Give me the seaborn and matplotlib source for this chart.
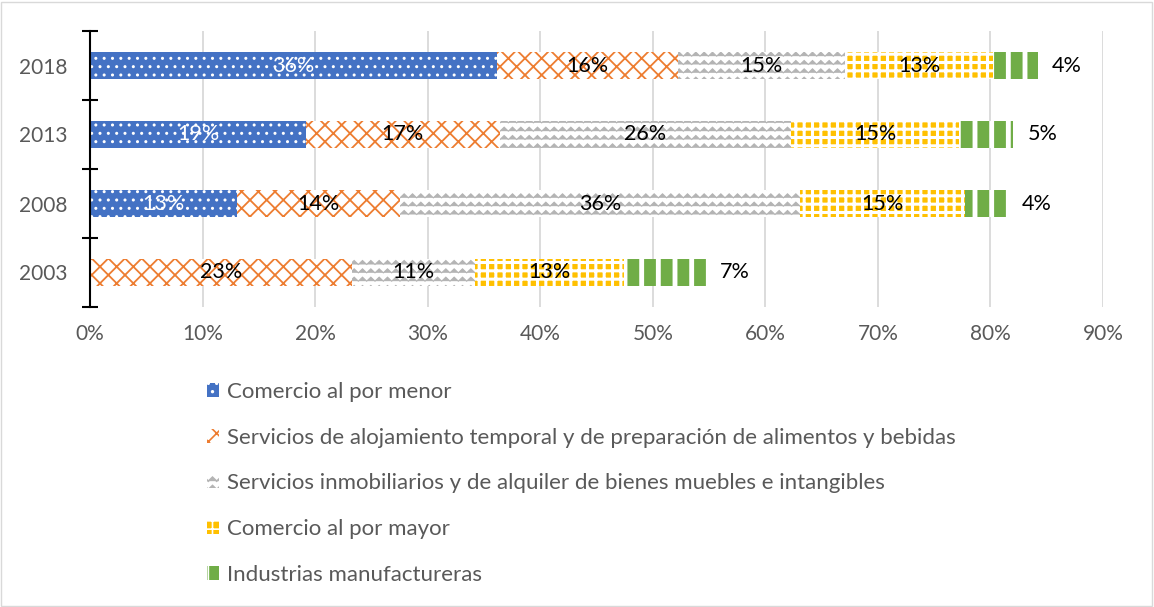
import matplotlib
matplotlib.use("Agg")
import matplotlib.pyplot as plt
import seaborn as sns
import numpy as np
import pandas as pd
from matplotlib.patches import Rectangle, Patch
from matplotlib import hatch as mhatch
from matplotlib.path import Path

years = ["2018", "2013", "2008", "2003"]
series = [
    "Comercio al por menor",
    "Servicios de alojamiento temporal y de preparación de alimentos y bebidas",
    "Servicios inmobiliarios y de alquiler de bienes muebles e intangibles",
    "Comercio al por mayor",
    "Industrias manufactureras",
]
menor = [36.2, 19.2, 13.1, 0.0]
alojamiento = [16.0, 17.2, 14.4, 23.3]
inmobiliarios = [14.9, 25.9, 35.6, 10.9]
mayor = [13.1, 14.9, 14.6, 13.2]
manufactureras = [4.0, 4.8, 3.8, 7.3]
xticks = [0, 10, 20, 30, 40, 50, 60, 70, 80, 90]


# zigzag hatch for '-' (only the grey series uses it)
class ZigZagHatch(mhatch.HatchPatternBase):
    def __init__(self, hatch, density):
        self.num_rows = hatch.count('-') * density
        self.num_teeth = 12
        self.num_vertices = self.num_rows * (2 * self.num_teeth + 1)

    def set_vertices_and_codes(self, vertices, codes):
        n = self.num_rows
        m = self.num_teeth
        amp = 0.24 / n
        idx = 0
        for r in range(n):
            y0 = (r + 0.5) / n
            for k in range(2 * m + 1):
                vertices[idx] = (k / (2 * m), y0 + (amp if k % 2 else -amp))
                codes[idx] = Path.MOVETO if k == 0 else Path.LINETO
                idx += 1


# horizontal lines only for '+'
class PlusHorizontalHatch(mhatch.HorizontalHatch):
    def __init__(self, hatch, density):
        self.num_lines = int(hatch.count('+') * density)
        self.num_vertices = self.num_lines * 2


new_types = []
for t in mhatch._hatch_types:
    if t is mhatch.HorizontalHatch:
        new_types.extend([PlusHorizontalHatch, ZigZagHatch])
    else:
        new_types.append(t)
mhatch._hatch_types = new_types

values = [menor, alojamiento, inmobiliarios, mayor, manufactureras]
# (face, hatchcolor, hatch, hatch linewidth)
styles = [
    ("#4472C4", "white", "..", 1.0),
    ("white", "#ED7D31", "xx", 1.3),
    ("white", "#B4B4B4", "--", 0.8),
    ("#FFC000", "white", "++", 2.2),
    ("#70AD47", "white", "|", 3.5),
]

sns.set_theme(style="white")
plt.rcParams["font.family"] = ["Lato", "DejaVu Sans"]
plt.rcParams["hatch.linewidth"] = 1.2

fig = plt.figure(figsize=(11.54, 6.07), dpi=100)
ax = fig.add_axes([90 / 1154, 1 - 307 / 607, (1103 - 90) / 1154, (307 - 31) / 607])


def style_patch(p, st):
    face, hc, hatch, hlw = st
    p.set_facecolor(face)
    p.set_edgecolor(hc)
    p.set_hatch(hatch)
    p.set_linewidth(0)
    if hasattr(p, "set_hatch_linewidth"):
        try:
            p.set_hatch_linewidth(hlw)
        except Exception:
            pass


cum = np.cumsum(np.array(values), axis=0)
# draw from the full stack down so each shorter layer covers the previous
for i in range(len(series) - 1, -1, -1):
    df = pd.DataFrame({"year": years, "val": cum[i]})
    n_before = len(ax.patches)
    sns.barplot(data=df, x="val", y="year", order=years, orient="h",
                width=0.39, ax=ax, errorbar=None)
    for p in ax.patches[n_before:]:
        style_patch(p, styles[i])

# data labels
for i in range(len(series)):
    starts = cum[i] - np.array(values[i])
    for j, y in enumerate(years):
        v = values[i][j]
        if v <= 0:
            continue
        if i == len(series) - 1:
            xpos = cum[i][j] + 2.6
        else:
            xpos = starts[j] + v / 2
        col = "white" if i == 0 else "black"
        ax.text(xpos, j, f"{v:.0f}%", ha="center", va="center",
                fontsize=15.5, color=col, zorder=10)

ax.set_xlim(0, 90)
ax.set_ylim(3.5, -0.5)
ax.set_xticks(xticks)
ax.set_xticklabels([f"{t}%" for t in xticks], fontsize=15, color="#595959")
ax.set_yticks(range(len(years)))
ax.set_yticklabels(years, fontsize=15, color="#595959")
ax.set_yticks(np.arange(-0.5, len(years), 1), minor=True)
ax.tick_params(axis="y", which="major", left=False, length=0, pad=16)
ax.tick_params(axis="y", which="minor", left=True, length=11, width=1.5,
               direction="inout", color="black")
ax.tick_params(axis="x", length=0, pad=12)
ax.set_xlabel("")
ax.set_ylabel("")
ax.grid(axis="x", color="#D9D9D9", linewidth=1.3)
ax.set_axisbelow(True)
for s in ["top", "right", "bottom"]:
    ax.spines[s].set_visible(False)
ax.spines["left"].set_color("black")
ax.spines["left"].set_linewidth(1.5)
ax.spines["left"].set_zorder(5)

handles = []
for i in range(len(series)):
    h = Patch()
    style_patch(h, styles[i])
    handles.append(h)
leg = fig.legend(handles, series, loc="upper left",
                 bbox_to_anchor=(198 / 1154, 1 - 373 / 607),
                 frameon=False, fontsize=16, labelcolor="#595959",
                 handlelength=0.55, handleheight=0.55, handletextpad=0.35,
                 labelspacing=1.16, borderaxespad=0)

fig.patches.append(Rectangle((1 / 1154, 1 / 607), 1151 / 1154, 604 / 607,
                             transform=fig.transFigure, fill=False,
                             edgecolor="#D9D9D9", linewidth=1))
fig.savefig("out.png", dpi=100, facecolor="white")
